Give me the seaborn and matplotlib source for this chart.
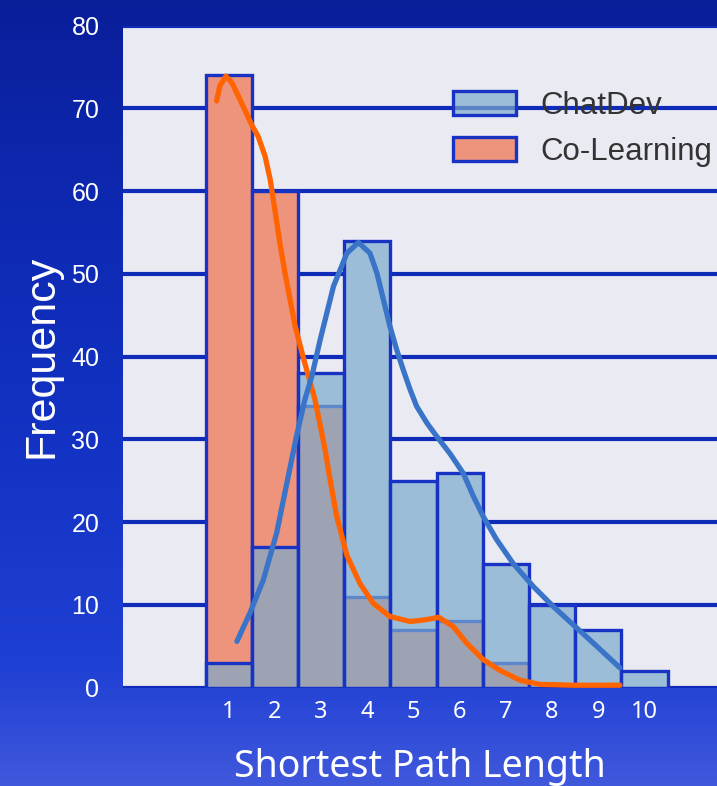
import numpy as np
import pandas as pd
import matplotlib
matplotlib.use("Agg")
import matplotlib.pyplot as plt
from matplotlib.colors import LinearSegmentedColormap
import seaborn as sns

# =========================================
# DATA
# =========================================

path_lengths = [1, 2, 3, 4, 5, 6, 7, 8, 9, 10]

chatdev_counts = [3, 17, 38, 54, 25, 26, 15, 10, 7, 2]
colearning_counts = [74, 60, 34, 11, 7, 8, 3, 0, 0, 0]

# smoothed density curves, scaled to counts
chatdev_kde_x = [1.18, 1.46, 1.75, 2.04, 2.26, 2.47, 2.65, 2.80, 2.98, 3.27,
                 3.56, 3.81, 4.06, 4.21, 4.35, 4.49, 4.64, 4.78, 4.93, 5.07,
                 5.29, 5.50, 5.79, 6.08, 6.30, 6.51, 6.80, 7.16, 7.60, 8.03,
                 8.46, 8.97, 9.47]
chatdev_kde_y = [5.6, 9.0, 13.0, 18.7, 24.7, 30.4, 34.8, 37.6, 42.0, 48.5,
                 52.5, 53.8, 52.5, 50.1, 46.9, 43.7, 40.8, 38.4, 36.0, 34.0,
                 32.0, 30.4, 28.3, 25.9, 23.1, 20.7, 17.9, 15.0, 12.2, 9.8,
                 7.6, 5.0, 2.4]

colearning_kde_x = [0.74, 0.81, 0.94, 1.07, 1.21, 1.36, 1.50, 1.64, 1.79, 1.90,
                    2.00, 2.11, 2.22, 2.33, 2.44, 2.62, 2.87, 3.09, 3.20, 3.34,
                    3.56, 3.84, 4.13, 4.49, 4.93, 5.25, 5.55, 5.86, 6.15, 6.51,
                    6.87, 7.31, 7.74, 8.46, 9.47]
colearning_kde_y = [70.9, 72.7, 73.9, 73.1, 71.5, 69.7, 68.0, 66.6, 64.2, 61.4,
                    57.8, 53.7, 50.1, 46.9, 43.7, 39.8, 34.8, 28.7, 25.0, 20.7,
                    16.0, 12.6, 10.2, 8.6, 8.0, 8.2, 8.5, 7.4, 5.4, 3.4,
                    2.1, 0.9, 0.4, 0.3, 0.3]

y_ticks = [0, 10, 20, 30, 40, 50, 60, 70, 80]

# =========================================
# STYLE
# =========================================

sns.set_theme(style="darkgrid")
plt.rcParams["font.family"] = ["Liberation Sans", "DejaVu Sans"]

EDGE = "#1832c4"
GRID = "#0f2cb8"
PANEL = "#e9eaf2"

fig = plt.figure(figsize=(7.17, 7.86), dpi=100)

# blue gradient background
bg_ax = fig.add_axes([0, 0, 1, 1], zorder=-10)
bg_cmap = LinearSegmentedColormap.from_list(
    "bg",
    [(0.0, "#0a1e9a"), (0.3, "#0e2ab4"), (0.6, "#1434c6"),
     (0.85, "#1f40d4"), (1.0, "#4058dc")]
)
gradient = np.linspace(0, 1, 256).reshape(-1, 1)
bg_ax.imshow(gradient, aspect="auto", cmap=bg_cmap, extent=[0, 1, 0, 1])
bg_ax.axis("off")

ax = fig.add_axes([123 / 717, 1 - 687.7 / 786, 1 - 123 / 717, (687.7 - 25.6) / 786])
ax.set_facecolor(PANEL)

# =========================================
# HISTOGRAMS
# =========================================

# opaque base so the grid does not show through the translucent bars
sns.histplot(
    x=path_lengths,
    weights=chatdev_counts,
    discrete=True,
    color=PANEL,
    alpha=1.0,
    edgecolor="none",
    linewidth=0,
    ax=ax
)

sns.histplot(
    x=path_lengths,
    weights=colearning_counts,
    discrete=True,
    color="#ee937c",
    alpha=1.0,
    edgecolor=EDGE,
    linewidth=2.4,
    label="Co-Learning",
    ax=ax
)

sns.histplot(
    x=path_lengths,
    weights=chatdev_counts,
    discrete=True,
    color="#7caacd",
    alpha=0.7,
    edgecolor=EDGE,
    linewidth=2.4,
    label="ChatDev",
    ax=ax
)

# =========================================
# DENSITY CURVES
# =========================================

sns.lineplot(
    x=colearning_kde_x,
    y=colearning_kde_y,
    color="#ff6400",
    linewidth=3.8,
    solid_capstyle="round",
    solid_joinstyle="round",
    legend=False,
    ax=ax
)

sns.lineplot(
    x=chatdev_kde_x,
    y=chatdev_kde_y,
    color="#3a74c8",
    linewidth=3.8,
    solid_capstyle="round",
    solid_joinstyle="round",
    legend=False,
    ax=ax
)

# =========================================
# AXES
# =========================================

ax.set_xlim(-1.286, 11.571)
ax.set_ylim(0, 80)

ax.set_xticks(path_lengths)
ax.set_xticklabels([str(v) for v in path_lengths],
                   fontfamily="Noto Sans", fontsize=17, color="white")
ax.set_yticks(y_ticks)
ax.set_yticklabels([str(v) for v in y_ticks], fontsize=18, color="white")

ax.tick_params(axis="x", length=0, pad=9)
ax.tick_params(axis="y", length=0, pad=17)

ax.grid(axis="x", visible=False)
ax.grid(axis="y", color=GRID, linewidth=3)

for spine in ax.spines.values():
    spine.set_visible(False)

ax.set_xlabel("Shortest Path Length", fontfamily="Noto Sans",
              fontsize=27, color="white", labelpad=17)
ax.set_ylabel("Frequency", fontsize=31, color="white", labelpad=7)

# =========================================
# LEGEND
# =========================================

handles, labels = ax.get_legend_handles_labels()
order = [labels.index("ChatDev"), labels.index("Co-Learning")]

ax.legend(
    [handles[i] for i in order],
    [labels[i] for i in order],
    loc="upper left",
    bbox_to_anchor=(453 / 717, 1 - 91 / 786),
    bbox_transform=fig.transFigure,
    frameon=False,
    fontsize=22.5,
    handlelength=2.0,
    handleheight=0.8,
    handletextpad=0.8,
    labelspacing=0.52,
    borderpad=0,
    borderaxespad=0,
    labelcolor="#333333"
)

fig.savefig("out.png", dpi=100)
